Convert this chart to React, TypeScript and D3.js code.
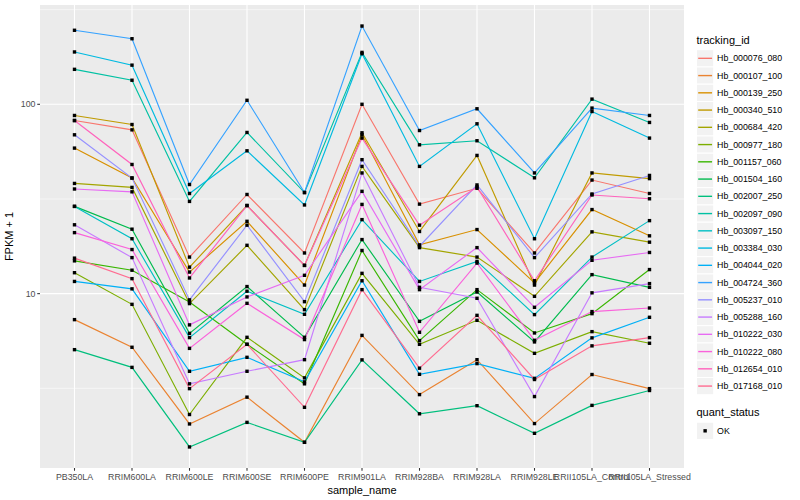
import * as d3 from "d3";

const samples = [
  "PB350LA", "RRIM600LA", "RRIM600LE", "RRIM600SE", "RRIM600PE", "RRIM901LA",
  "RRIM928BA", "RRIM928LA", "RRIM928LE", "RRII105LA_Control", "RRII105LA_Stressed",
];

// FPKM + 1, one value per sample
const hb_000076_080 = [82.1, 73.3, 15.6, 33.4, 16.4, 100, 29.7, 36.0, 16.4, 39.8, 33.8];
const hb_000107_100 = [7.29, 5.21, 2.05, 2.84, 1.64, 6.02, 2.93, 4.48, 2.06, 3.74, 3.15];
const hb_000139_250 = [58.7, 40.8, 13.0, 24.1, 11.1, 69.0, 18.1, 21.8, 11.4, 27.8, 20.2];
const hb_000340_510 = [87.3, 78.2, 13.8, 29.2, 14.1, 70.7, 21.3, 53.7, 11.1, 43.4, 40.5];
const hb_000684_420 = [38.2, 36.4, 8.86, 18.0, 8.23, 47.0, 17.5, 15.6, 9.68, 21.2, 18.7];
const hb_000977_180 = [12.9, 8.78, 2.3, 5.88, 3.59, 12.8, 5.4, 7.23, 4.84, 6.3, 5.47];
const hb_001157_060 = [14.9, 13.3, 9.04, 5.4, 3.34, 16.9, 5.65, 10.5, 6.2, 7.84, 13.4];
const hb_001504_160 = [28.9, 21.9, 6.17, 10.9, 5.88, 19.3, 7.14, 10.2, 5.56, 12.6, 10.8];
const hb_002007_250 = [5.06, 4.08, 1.55, 2.09, 1.64, 4.47, 2.32, 2.56, 1.83, 2.57, 3.08];
const hb_002097_090 = [153, 134, 30.7, 71.0, 34.2, 188, 61.1, 64.2, 40.9, 106.5, 80.2];
const hb_003097_150 = [28.9, 19.5, 5.86, 10.3, 7.78, 24.6, 11.6, 14.8, 7.75, 15.6, 24.3];
const hb_003384_030 = [189, 161, 33.8, 56.8, 29.4, 185, 47.0, 78.9, 19.5, 91.6, 66.3];
const hb_004044_020 = [11.6, 10.6, 3.89, 4.61, 3.42, 11.7, 3.75, 4.27, 3.57, 5.84, 7.5];
const hb_004724_360 = [246, 222, 37.7, 105, 34.2, 259, 72.7, 94.7, 43.4, 95.5, 87.3];
const hb_005237_010 = [69.0, 40.8, 9.27, 23.0, 9.07, 51.0, 17.8, 37.5, 15.5, 33.6, 42.1];
const hb_005288_160 = [23.1, 15.5, 3.34, 3.89, 4.48, 43.4, 10.8, 9.45, 2.86, 10.1, 11.3];
const hb_010222_030 = [35.7, 34.5, 6.84, 9.61, 12.5, 34.7, 10.5, 17.5, 8.47, 15.0, 16.5];
const hb_010222_080 = [21.0, 17.1, 5.14, 8.89, 5.72, 29.6, 6.25, 14.5, 5.67, 8.04, 8.4];
const hb_012654_010 = [82.1, 48.1, 12.1, 29.2, 14.1, 66.3, 23.0, 36.6, 11.7, 33.2, 31.7];
const hb_017168_010 = [15.4, 12.0, 3.15, 5.4, 2.51, 10.5, 4.04, 7.68, 3.52, 5.3, 5.86];

const trackingIds = [
  "Hb_000076_080", "Hb_000107_100", "Hb_000139_250", "Hb_000340_510", "Hb_000684_420",
  "Hb_000977_180", "Hb_001157_060", "Hb_001504_160", "Hb_002007_250", "Hb_002097_090",
  "Hb_003097_150", "Hb_003384_030", "Hb_004044_020", "Hb_004724_360", "Hb_005237_010",
  "Hb_005288_160", "Hb_010222_030", "Hb_010222_080", "Hb_012654_010", "Hb_017168_010",
];

const seriesValues = [
  hb_000076_080, hb_000107_100, hb_000139_250, hb_000340_510, hb_000684_420,
  hb_000977_180, hb_001157_060, hb_001504_160, hb_002007_250, hb_002097_090,
  hb_003097_150, hb_003384_030, hb_004044_020, hb_004724_360, hb_005237_010,
  hb_005288_160, hb_010222_030, hb_010222_080, hb_012654_010, hb_017168_010,
];

// ggplot default hue palette, 20 levels
const palette = [
  "#F8766D", "#EA8331", "#D89000", "#C09B00", "#A3A500", "#7CAE00", "#39B600", "#00BB4E",
  "#00BF7D", "#00C1A3", "#00BFC4", "#00BAE0", "#00B0F6", "#35A2FF", "#9590FF", "#C77CFF",
  "#E76BF3", "#FA62DB", "#FF62BC", "#FF6C91",
];

const yMajor = [10, 100];
const yMinor = [10 ** 0.5, 10 ** 1.5, 10 ** 2.5];

const FONT = "'Liberation Sans', Arial, Helvetica, sans-serif";

export default function App() {
  const W = 800;
  const H = 500;
  const m = { left: 40, right: 684, top: 5, bottom: 468 };

  const x = d3.scalePoint<string>().domain(samples).range([m.left, m.right]).padding(0.6);

  // log scale with ggplot-like 5% expansion
  const all = seriesValues.flat();
  const lo = Math.log10(d3.min(all)!);
  const hi = Math.log10(d3.max(all)!);
  const pad = (hi - lo) * 0.05;
  const y = d3.scaleLog().domain([10 ** (lo - pad), 10 ** (hi + pad)]).range([m.bottom, m.top]);

  const line = d3
    .line<number>()
    .x((_, i) => x(samples[i])!)
    .y((v) => y(v));

  const keyH = 17.25;
  const keyX = 696.5;
  const legTop = 49.7;
  const qTop = legTop + 20 * keyH + 27.5;

  return (
    <div style={{ position: "absolute", left: 0, top: 0 }}>
      <svg width={W} height={H} style={{ display: "block", fontFamily: FONT }}>
        <rect width={W} height={H} fill="#fff" />
        {/* panel */}
        <rect x={m.left} y={m.top} width={m.right - m.left} height={m.bottom - m.top} fill="#EBEBEB" />
        {yMinor.map((v, i) => (
          <line key={"mn" + i} x1={m.left} x2={m.right} y1={y(v)} y2={y(v)} stroke="#fff" strokeWidth={0.55} />
        ))}
        {yMajor.map((v, i) => (
          <line key={"mj" + i} x1={m.left} x2={m.right} y1={y(v)} y2={y(v)} stroke="#fff" strokeWidth={1.1} />
        ))}
        {samples.map((s) => (
          <line key={"gx" + s} x1={x(s)} x2={x(s)} y1={m.top} y2={m.bottom} stroke="#fff" strokeWidth={1.1} />
        ))}

        {/* series lines */}
        {seriesValues.map((vals, i) => (
          <path key={"l" + i} d={line(vals)!} fill="none" stroke={palette[i]} strokeWidth={1.15} />
        ))}
        {/* points */}
        {seriesValues.map((vals, i) =>
          vals.map((v, j) => (
            <rect
              key={"p" + i + "-" + j}
              x={x(samples[j])! - 1.7}
              y={y(v) - 1.7}
              width={3.4}
              height={3.4}
              fill="#000"
            />
          ))
        )}

        {/* y axis */}
        {yMajor.map((v) => (
          <g key={"ty" + v}>
            <line x1={m.left - 2.75} x2={m.left} y1={y(v)} y2={y(v)} stroke="#333" strokeWidth={1.07} />
            <text x={m.left - 4.5} y={y(v)} dy="0.34em" textAnchor="end" fontSize={8.8} fill="#4D4D4D">
              {v}
            </text>
          </g>
        ))}
        <text
          transform={`translate(13,${(m.top + m.bottom) / 2}) rotate(-90)`}
          textAnchor="middle"
          fontSize={11}
          fill="#000"
        >
          FPKM + 1
        </text>

        {/* x axis */}
        {samples.map((s) => (
          <g key={"tx" + s}>
            <line x1={x(s)} x2={x(s)} y1={m.bottom} y2={m.bottom + 2.75} stroke="#333" strokeWidth={1.07} />
            <text x={x(s)} y={m.bottom + 12.3} textAnchor="middle" fontSize={8.8} fill="#4D4D4D">
              {s}
            </text>
          </g>
        ))}
        <text x={(m.left + m.right) / 2} y={m.bottom + 26} textAnchor="middle" fontSize={11} fill="#000">
          sample_name
        </text>

        {/* legend: tracking_id */}
        <text x={keyX} y={legTop - 6} fontSize={11} fill="#000">
          tracking_id
        </text>
        {trackingIds.map((id, i) => {
          const ky = legTop + i * keyH;
          return (
            <g key={"lg" + id}>
              <rect x={keyX} y={ky} width={keyH} height={keyH} fill="#F2F2F2" stroke="#fff" strokeWidth={1} />
              <line
                x1={keyX + 1.7}
                x2={keyX + keyH - 1.7}
                y1={ky + keyH / 2}
                y2={ky + keyH / 2}
                stroke={palette[i]}
                strokeWidth={1.4}
              />
              <text x={keyX + keyH + 3.3} y={ky + keyH / 2} dy="0.34em" fontSize={8.8} fill="#000">
                {id}
              </text>
            </g>
          );
        })}

        {/* legend: quant_status */}
        <text x={keyX} y={legTop + 20 * keyH + 21.5} fontSize={11} fill="#000">
          quant_status
        </text>
        <rect x={keyX} y={qTop} width={keyH} height={keyH} fill="#F2F2F2" stroke="#fff" />
        <rect x={keyX + keyH / 2 - 1.7} y={qTop + keyH / 2 - 1.7} width={3.4} height={3.4} fill="#000" />
        <text x={keyX + keyH + 3.3} y={qTop + keyH / 2} dy="0.34em" fontSize={8.8} fill="#000">
          OK
        </text>
      </svg>
    </div>
  );
}
